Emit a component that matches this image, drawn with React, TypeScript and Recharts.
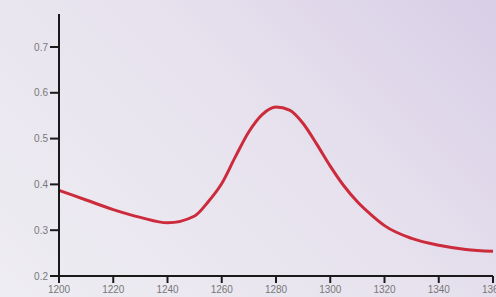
import React from "react"
import { LineChart, Line, XAxis, YAxis, ResponsiveContainer } from "recharts"

// wavelength (nm) and absorbance
const wavelengths = [1200, 1210, 1220, 1230, 1240, 1250, 1255, 1260, 1265, 1270, 1275, 1280, 1285, 1290, 1295, 1300, 1305, 1310, 1315, 1320, 1330, 1340, 1350, 1360]
const absorbance = [0.387, 0.366, 0.345, 0.328, 0.316, 0.331, 0.362, 0.402, 0.46, 0.515, 0.553, 0.569, 0.562, 0.533, 0.488, 0.44, 0.397, 0.362, 0.334, 0.31, 0.282, 0.267, 0.258, 0.254]
const xTicks = [1200, 1220, 1240, 1260, 1280, 1300, 1320, 1340, 1360]
const yTicks = [0.2, 0.3, 0.4, 0.5, 0.6, 0.7]

const chartData = wavelengths.map((w, i) => ({ w, a: absorbance[i] }))

export default function App() {
  return (
    <div
      style={{
        position: "fixed",
        left: 0,
        top: 0,
        width: 496,
        height: 297,
        background: "linear-gradient(225deg, #d8cee6 0%, #e7e2ee 45%, #eeedf2 100%)",
        fontFamily: "'Liberation Sans', Arial, sans-serif",
      }}
    >
      <div style={{ width: 496, height: 297 }}>
        <ResponsiveContainer width="100%" height="100%">
          <LineChart data={chartData} margin={{ top: 14, right: 3, left: 0, bottom: 0 }}>
            <XAxis
              dataKey="w"
              type="number"
              domain={[1200, 1360]}
              ticks={xTicks}
              interval={0}
              height={21}
              axisLine={{ stroke: "#1a1a1a", strokeWidth: 2 }}
              tickLine={{ stroke: "#1a1a1a", strokeWidth: 2 }}
              tickSize={7}
              tick={{ fill: "#777", fontSize: 10 }}
              tickMargin={3}
            />
            <YAxis
              type="number"
              domain={[0.2, 0.772]}
              ticks={yTicks}
              width={59}
              axisLine={{ stroke: "#1a1a1a", strokeWidth: 2 }}
              tickLine={{ stroke: "#1a1a1a", strokeWidth: 2 }}
              tickSize={9}
              tick={{ fill: "#777", fontSize: 10 }}
              tickMargin={2}
              tickFormatter={(v: number) => v.toFixed(1)}
            />
            <Line
              type="monotone"
              dataKey="a"
              stroke="#cc2b3c"
              strokeWidth={3}
              dot={false}
              isAnimationActive={false}
            />
          </LineChart>
        </ResponsiveContainer>
      </div>
    </div>
  )
}
